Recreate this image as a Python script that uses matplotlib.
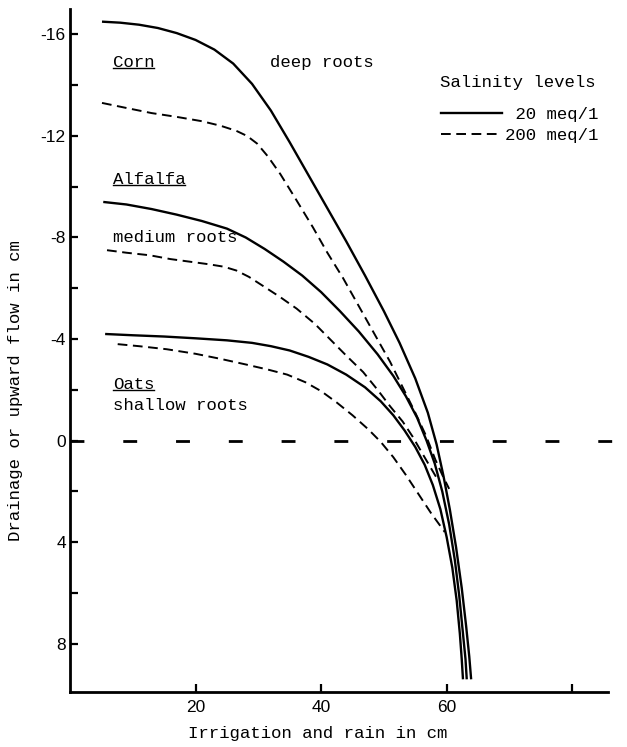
import numpy as np
import matplotlib
matplotlib.use("Agg")
import matplotlib.pyplot as plt
from matplotlib.lines import Line2D

plt.rcParams["axes.unicode_minus"] = False
plt.rcParams["lines.scale_dashes"] = False

# curves (x = irrigation+rain cm, y = drainage/upward flow cm)
corn_20_x = [5.1, 8, 11, 14, 17, 20, 23, 26, 29, 32, 35, 38, 41, 44, 47, 50, 52.5,
             55, 57, 58.4, 59.5, 60.5, 61.5, 62.4, 63.1, 63.6, 63.9]
corn_20_y = [-16.5, -16.46, -16.38, -16.25, -16.05, -15.78, -15.4, -14.85, -14.05, -13.0,
             -11.75, -10.45, -9.15, -7.85, -6.5, -5.1, -3.85, -2.45, -1.1, 0.15, 1.4, 2.7,
             4.2, 5.8, 7.3, 8.5, 9.4]
corn_200_x = [5.1, 9, 13, 17, 21, 24, 26.5, 28.2, 29.8, 31.5, 33.5, 36, 38.7, 41, 43.5,
              46, 48.5, 51, 53, 55, 56.7, 58.2, 59.4, 60.4]
corn_200_y = [-13.3, -13.1, -12.9, -12.75, -12.58, -12.4, -12.2, -12.0, -11.7, -11.2,
              -10.5, -9.5, -8.4, -7.4, -6.4, -5.3, -4.2, -3.1, -2.1, -1.1, -0.2, 0.75,
              1.4, 1.9]

alfalfa_20_x = [5.3, 9, 13, 17, 21, 25, 28, 31, 34, 37, 40, 43, 46, 49, 51.5, 53.5,
                55.3, 56.8, 58.1, 59.3, 60.4, 61.3, 62.0, 62.6, 63.0, 63.2]
alfalfa_20_y = [-9.4, -9.3, -9.12, -8.9, -8.65, -8.35, -8.0, -7.55, -7.05, -6.5, -5.85,
                -5.1, -4.3, -3.4, -2.55, -1.75, -0.9, 0.0, 0.9, 2.0, 3.3, 4.7, 6.1, 7.6,
                8.6, 9.4]
alfalfa_200_x = [5.9, 9, 12.7, 16, 19, 22, 24.5, 26.5, 28.5, 30.7, 33.5, 36.1, 39, 41.4,
                 44, 46.7, 49, 51, 53, 54.6, 56, 57.3, 58.6]
alfalfa_200_y = [-7.5, -7.4, -7.3, -7.15, -7.05, -6.95, -6.85, -6.7, -6.45, -6.1, -5.65,
                 -5.2, -4.6, -4.0, -3.35, -2.7, -2.0, -1.35, -0.75, -0.15, 0.45, 1.0, 1.55]

oats_20_x = [5.6, 10, 15, 20, 25, 29, 32, 35, 38, 41, 44, 47, 49.5, 51.5, 53.3, 55,
             56.5, 57.8, 59, 60, 60.9, 61.6, 62.1, 62.4, 62.6]
oats_20_y = [-4.2, -4.15, -4.1, -4.03, -3.95, -3.85, -3.72, -3.55, -3.3, -3.0, -2.6,
             -2.1, -1.55, -1.0, -0.4, 0.25, 0.95, 1.75, 2.7, 3.8, 5.0, 6.3, 7.6, 8.6, 9.4]
oats_200_x = [7.6, 11, 15.4, 20, 24, 28, 31.5, 34.6, 37.5, 40, 42.5, 45, 47.5, 49.5,
              51.5, 53.5, 55.5, 57.5, 59.7]
oats_200_y = [-3.8, -3.72, -3.6, -3.42, -3.22, -3.0, -2.8, -2.6, -2.3, -1.95, -1.5,
              -1.0, -0.45, 0.05, 0.65, 1.35, 2.1, 2.85, 3.6]

y_major = [-16, -12, -8, -4, 0, 4, 8]
y_minor = [-14, -10, -6, -2, 2, 6]
x_ticks = [20, 40, 60, 80]
x_labels = ["20", "40", "60", ""]

mono = {"family": "Liberation Mono", "size": 12.5}
LW = 1.7
DASH = (0, (7, 4))

fig = plt.figure(figsize=(6.27, 7.47), dpi=100)
ax = fig.add_axes([0.1116, 0.0736, 0.8581, 0.9144])

for xs, ys in [(corn_20_x, corn_20_y), (alfalfa_20_x, alfalfa_20_y), (oats_20_x, oats_20_y)]:
    ax.plot(xs, ys, color="black", lw=LW, solid_capstyle="butt", solid_joinstyle="round")
for xs, ys in [(corn_200_x, corn_200_y), (alfalfa_200_x, alfalfa_200_y), (oats_200_x, oats_200_y)]:
    ax.plot(xs, ys, color="black", lw=1.4, linestyle=DASH)

# zero line, runs past the end of the x axis
ax.axhline(0, xmin=0, xmax=1.04, color="black", lw=2.0,
           linestyle=(0, (10, 28)), clip_on=False)

ax.set_xlim(0, 85.7)
ax.set_ylim(9.9, -17)
ax.spines["top"].set_visible(False)
ax.spines["right"].set_visible(False)
for s in ("left", "bottom"):
    ax.spines[s].set_linewidth(2.0)

ax.set_yticks(y_major)
ax.set_yticklabels([str(v) for v in y_major])
ax.set_yticks(y_minor, minor=True)
ax.set_xticks(x_ticks)
ax.set_xticklabels(x_labels)
ax.tick_params(axis="both", which="both", direction="in", length=6, width=1.6,
               labelsize=12.5, pad=3)
for lab in ax.get_xticklabels() + ax.get_yticklabels():
    lab.set_family("Liberation Sans")
ax.tick_params(axis="x", pad=6)

ax.set_xlabel("Irrigation and rain in cm", fontdict=mono)
ax.set_ylabel("Drainage or upward flow in cm", fontdict=mono)
ax.xaxis.set_label_coords(0.461, -0.050)
ax.yaxis.set_label_coords(-0.087, 0.442)

# crop labels
labels = [("Corn", 6.8, -14.9, True), ("deep roots", 31.8, -14.9, False),
          ("Alfalfa", 6.8, -10.3, True), ("medium roots", 6.8, -8.0, False),
          ("Oats", 6.8, -2.2, True), ("shallow roots", 6.8, -1.4, False)]
texts = []
for s, x, y, ul in labels:
    t = ax.text(x, y, s, fontdict=mono, ha="left", va="center")
    texts.append((t, ul))

ax.text(0.6877, 0.893, "Salinity levels", fontdict=mono, transform=ax.transAxes,
        ha="left", va="center")
handles = [Line2D([], [], color="black", lw=LW),
           Line2D([], [], color="black", lw=1.4, linestyle=DASH)]
leg = ax.legend(handles, [" 20 meq/1", "200 meq/1"],
                loc="upper left", bbox_to_anchor=(0.689, 0.857), frameon=False,
                prop=mono, handlelength=3.56, handletextpad=0.15, labelspacing=0.35,
                borderpad=0, borderaxespad=0)

fig.canvas.draw()
inv = fig.transFigure.inverted()
for t, ul in texts:
    if not ul:
        continue
    bb = t.get_window_extent()
    (x0, y0), (x1, _) = inv.transform([(bb.x0, bb.y0 + 2), (bb.x1, bb.y0 + 2)])
    fig.add_artist(Line2D([x0, x1], [y0, y0], color="black", lw=1.0,
                          transform=fig.transFigure))

fig.savefig("out.png", dpi=100)
